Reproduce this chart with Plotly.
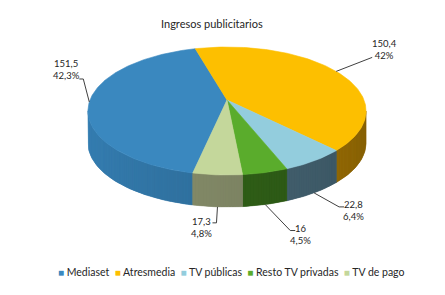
import numpy as np
import plotly.graph_objects as go

# ---------------- data ----------------
title = "Ingresos publicitarios"
categories = ["Mediaset", "Atresmedia", "TV públicas", "Resto TV privadas", "TV de pago"]
values = [151.5, 150.4, 22.8, 16, 17.3]

# ---------------- styles ----------------
top_colors = ["#3a88bf", "#fdbf00", "#93cddd", "#5aac2c", "#c4d79b"]
side_colors = ["#2f709e", "#a47505", "#456473", "#306017", "#818866"]
FONT = "Lato, 'Open Sans', sans-serif"
TXT = "#262626"

# geometry of the tilted pie in pixel space
W, H = 445, 295
CX, CY = 227, 100
A, B, P = 137, 62.1, 0.172
DEPTH = 32
START = 192  # degrees clockwise from top where the first slice begins

# label layout (relative offsets)
elbow_off = [(-6, -23), (36, -14), (25, 14), (25, 26), (-1, 16)]
stub_len = [-4, 0, 5, 5, -4]
text_off = [(-17, -9), (12, -8), (14, 4), (10, 4), (-15, 5)]


def proj(theta_deg, drop=0.0):
    t = np.radians(theta_deg)
    d = 1 + P * np.cos(t)
    return CX + A * np.sin(t) / d, CY - B * np.cos(t) / d + drop


def shade(hexcol, m):
    h = hexcol.lstrip("#")
    r, g, b = (int(h[i:i + 2], 16) for i in (0, 2, 4))
    r, g, b = (max(0, min(255, int(round(c * m)))) for c in (r, g, b))
    return f"#{r:02x}{g:02x}{b:02x}"


def wall(a0, a1, npts):
    th = np.linspace(a0, a1, npts)
    xt, yt = proj(th)
    xb, yb = proj(th[::-1], DEPTH)
    return np.concatenate([xt, xb, xt[:1]]), np.concatenate([yt, yb, yt[:1]])


total = sum(values)
spans = [v / total * 360 for v in values]
starts = [START + sum(spans[:i]) for i in range(len(values))]

vis_lo = np.degrees(np.arccos(-P))
vis_hi = 360 - vis_lo

fig = go.Figure()

# ---- side walls (front visible part) ----
for i, (s, sp) in enumerate(zip(starts, spans)):
    e = s + sp
    for k in (-1, 0, 1):
        lo = max(s, vis_lo + 360 * k)
        hi = min(e, vis_hi + 360 * k)
        if hi <= lo:
            continue
        # base wall (prevents seams between gradient strips)
        mm = 0.8 + 0.35 * ((lo + hi) / 2 - 360 * k - vis_lo) / (vis_hi - vis_lo)
        bx, by = wall(lo, hi, max(3, int(hi - lo) + 2))
        bcol = shade(side_colors[i], mm)
        fig.add_trace(go.Scatter(x=bx, y=by, mode="lines", fill="toself",
                                 fillcolor=bcol, line=dict(color=bcol, width=0.5),
                                 hoverinfo="skip", showlegend=False))
        n = max(1, int(np.ceil((hi - lo) / 1.0)))
        edges = np.linspace(lo, hi, n + 1)
        for a0, a1 in zip(edges[:-1], edges[1:]):
            mid = (a0 + a1) / 2 - 360 * k
            m = 0.8 + 0.35 * (mid - vis_lo) / (vis_hi - vis_lo)
            col = shade(side_colors[i], m)
            x, y = wall(a0, a1, 3)
            fig.add_trace(go.Scatter(
                x=x, y=y, mode="lines", fill="toself", fillcolor=col,
                line=dict(width=0),
                hoverinfo="skip", showlegend=False))

# ---- top faces ----
for i, (s, sp) in enumerate(zip(starts, spans)):
    th = np.linspace(s, s + sp, max(3, int(sp) + 2))
    xa, ya = proj(th)
    fig.add_trace(go.Scatter(
        x=np.concatenate([[CX], xa, [CX]]),
        y=np.concatenate([[CY], ya, [CY]]),
        mode="lines", fill="toself", fillcolor=top_colors[i],
        line=dict(color=top_colors[i], width=0.6),
        hoverinfo="skip", showlegend=False, name=categories[i]))

# ---- data labels with leader lines ----
annotations = []
for i, (s, sp) in enumerate(zip(starts, spans)):
    mid = (s + sp / 2) % 360
    drop = DEPTH if vis_lo <= mid <= vis_hi else 0
    ax, ay = proj(mid, drop)
    ex, ey = ax + elbow_off[i][0], ay + elbow_off[i][1]
    sx = ex + stub_len[i]
    fig.add_trace(go.Scatter(
        x=[ax, ex, sx], y=[ay, ey, ey], mode="lines",
        line=dict(color="#404040", width=1),
        hoverinfo="skip", showlegend=False))
    v = values[i]
    pct = round(v / total * 100, 1)
    vtxt = f"{v:g}".replace(".", ",")
    ptxt = f"{pct:g}".replace(".", ",") + "%"
    annotations.append(dict(
        x=ex + text_off[i][0], y=ey + text_off[i][1], xref="x", yref="y",
        text=f"{vtxt}<br>{ptxt}", showarrow=False, xanchor="center", yanchor="middle",
        font=dict(family=FONT, size=9.5, color=TXT)))

# title
annotations.append(dict(
    x=212, y=23, xref="x", yref="y", text=title, showarrow=False,
    xanchor="center", yanchor="middle", font=dict(family=FONT, size=11, color=TXT)))

# legend
leg = "  ".join(
    f"<span style='color:{c};font-size:10px'>■</span> {n}"
    for n, c in zip(categories, top_colors))
annotations.append(dict(
    x=231, y=272, xref="x", yref="y", text=leg, showarrow=False,
    xanchor="center", yanchor="middle", font=dict(family=FONT, size=10.5, color=TXT)))

fig.update_layout(
    width=W, height=H, margin=dict(l=0, r=0, t=0, b=0),
    paper_bgcolor="white", plot_bgcolor="white",
    xaxis=dict(range=[0, W], visible=False, fixedrange=True),
    yaxis=dict(range=[H, 0], visible=False, fixedrange=True),
    annotations=annotations, showlegend=False)

fig.write_html("out.html")
